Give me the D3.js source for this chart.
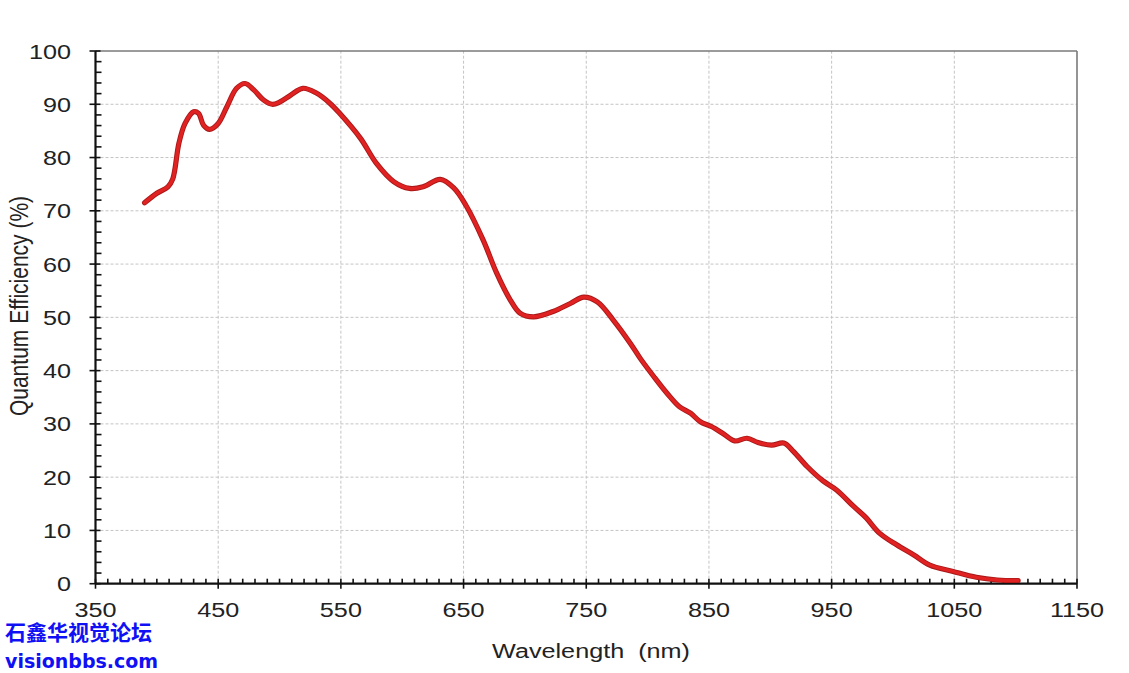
<!DOCTYPE html>
<html>
<head>
<meta charset="utf-8">
<script src="https://cdn.jsdelivr.net/npm/d3@7/dist/d3.min.js"></script>
<style>
  html, body { margin: 0; padding: 0; background: #fff; }
  svg { display: block; }
</style>
</head>
<body>
<svg id="chart" width="1129" height="673"></svg>
<script>
// ---- data ----
const wavelengths = [390, 400, 409, 413, 418, 423, 430, 434, 438, 443, 450, 457, 465, 472, 479, 487, 494, 500, 509, 519, 530, 541, 549, 566, 579, 593, 606, 617, 631, 642, 652, 666, 677, 688, 696, 707, 723, 737, 748, 759, 772, 786, 794, 805, 816, 826, 835, 843, 852, 862, 871, 881, 890, 901, 911, 919, 930, 943, 954, 968, 978, 989, 1003, 1017, 1030, 1049, 1068, 1085, 1102];
const qeValues    = [71.5, 73.3, 74.5, 76.0, 82.7, 86.4, 88.6, 88.3, 86.1, 85.3, 86.4, 89.5, 93.0, 93.9, 92.7, 90.8, 90.0, 90.4, 91.7, 93.0, 92.1, 90.2, 88.3, 83.6, 78.9, 75.5, 74.2, 74.5, 75.9, 74.3, 71.0, 64.5, 58.3, 53.3, 50.8, 50.1, 51.1, 52.6, 53.8, 52.9, 49.5, 45.1, 42.3, 38.9, 35.7, 33.2, 32.0, 30.4, 29.5, 28.1, 26.8, 27.3, 26.5, 26.0, 26.4, 24.8, 22.0, 19.3, 17.6, 14.5, 12.4, 9.5, 7.3, 5.4, 3.5, 2.3, 1.2, 0.7, 0.6];
const xTicks = [350, 450, 550, 650, 750, 850, 950, 1050, 1150];
const yTicks = [0, 10, 20, 30, 40, 50, 60, 70, 80, 90, 100];
const xTitle = "Wavelength  (nm)";
const yTitle = "Quantum Efficiency (%)";
const watermark1 = "石鑫华视觉论坛";
const watermark2 = "visionbbs.com";

// ---- layout ----
const svg = d3.select("#chart");
const x = d3.scaleLinear().domain([350, 1150]).range([95.5, 1077]);
const y = d3.scaleLinear().domain([0, 100]).range([583.7, 51]);
const SX = 1.2; // horizontal stretch of the reference text

// grid
const grid = svg.append("g");
grid.selectAll("line.gx").data(xTicks.filter(d => d > 350 && d < 1150)).join("line")
  .attr("x1", d => x(d)).attr("x2", d => x(d)).attr("y1", y(0)).attr("y2", y(100))
  .attr("stroke", "#c4c4c4").attr("stroke-width", 1).attr("stroke-dasharray", "3,2");
grid.selectAll("line.gy").data(yTicks.filter(d => d > 0 && d < 100)).join("line")
  .attr("x1", x(350)).attr("x2", x(1150)).attr("y1", d => y(d)).attr("y2", d => y(d))
  .attr("stroke", "#c4c4c4").attr("stroke-width", 1).attr("stroke-dasharray", "3,2");

// top & right frame
svg.append("line").attr("x1", x(350)).attr("x2", x(1150)).attr("y1", y(100)).attr("y2", y(100))
  .attr("stroke", "#7a7a7a").attr("stroke-width", 1.6);
svg.append("line").attr("x1", x(1150)).attr("x2", x(1150)).attr("y1", y(100)).attr("y2", y(0))
  .attr("stroke", "#7a7a7a").attr("stroke-width", 1.6);

// axes
const xMinor = d3.range(360, 1150, 10).filter(d => d % 100 !== 50);
const yMinor = d3.range(2, 100, 2).filter(d => d % 10 !== 0);
const axes = svg.append("g").attr("stroke", "#111").attr("stroke-width", 1.6);
axes.append("line").attr("x1", x(350)).attr("x2", x(1150)).attr("y1", y(0)).attr("y2", y(0)).attr("stroke-width", 2.2);
axes.append("line").attr("x1", x(350)).attr("x2", x(350)).attr("y1", y(0)).attr("y2", y(100)).attr("stroke-width", 2.2);
axes.selectAll("line.xmaj").data(xTicks).join("line")
  .attr("x1", d => x(d)).attr("x2", d => x(d)).attr("y1", y(0) - 5).attr("y2", y(0) + 5);
axes.selectAll("line.xmin").data(xMinor).join("line")
  .attr("x1", d => x(d)).attr("x2", d => x(d)).attr("y1", y(0) - 5).attr("y2", y(0));
axes.selectAll("line.ymaj").data(yTicks).join("line")
  .attr("x1", x(350) - 6).attr("x2", x(350) + 5).attr("y1", d => y(d)).attr("y2", d => y(d));
axes.selectAll("line.ymin").data(yMinor).join("line")
  .attr("x1", x(350)).attr("x2", x(350) + 6).attr("y1", d => y(d)).attr("y2", d => y(d));

// tick labels
const fontLat = "'Liberation Sans', Arial, sans-serif";
svg.selectAll("text.xl").data(xTicks).join("text")
  .attr("transform", d => `translate(${x(d)},617) scale(${SX},1)`)
  .attr("text-anchor", "middle").attr("font-family", fontLat).attr("font-size", 21)
  .attr("fill", "#222").text(d => d);
svg.selectAll("text.yl").data(yTicks).join("text")
  .attr("transform", d => `translate(71,${y(d) + 7.5}) scale(${SX},1)`)
  .attr("text-anchor", "end").attr("font-family", fontLat).attr("font-size", 21)
  .attr("fill", "#222").text(d => d);

// titles
svg.append("text").attr("transform", `translate(591,658) scale(${SX},1)`)
  .attr("text-anchor", "middle").attr("font-family", fontLat).attr("font-size", 21)
  .attr("fill", "#222").attr("xml:space", "preserve").style("white-space", "pre").text(xTitle);
svg.append("text").attr("transform", `translate(28,306) rotate(-90) scale(1,${SX})`)
  .attr("text-anchor", "middle").attr("font-family", fontLat).attr("font-size", 21)
  .attr("fill", "#222").text(yTitle);

// curve
const pts = wavelengths.map((w, i) => [w, qeValues[i]]);
const line = d3.line().x(d => x(d[0])).y(d => y(d[1])).curve(d3.curveCatmullRom.alpha(0.5));
svg.append("path").datum(pts).attr("d", line).attr("fill", "none")
  .attr("stroke", "#a81818").attr("stroke-width", 5.2).attr("stroke-linecap", "round").attr("stroke-linejoin", "round");
svg.append("path").datum(pts).attr("d", line).attr("fill", "none")
  .attr("stroke", "#e02222").attr("stroke-width", 3.4).attr("stroke-linecap", "round").attr("stroke-linejoin", "round");

// watermark
svg.append("text").attr("x", 5).attr("y", 640)
  .attr("font-family", "'Noto Sans CJK SC', sans-serif").attr("font-weight", "bold").attr("font-size", 21)
  .attr("fill", "#1010f5").text(watermark1);
svg.append("text").attr("x", 5).attr("y", 668)
  .attr("font-family", "'DejaVu Sans', sans-serif").attr("font-weight", "bold").attr("font-size", 19)
  .attr("fill", "#1010f5").text(watermark2);
</script>
</body>
</html>
